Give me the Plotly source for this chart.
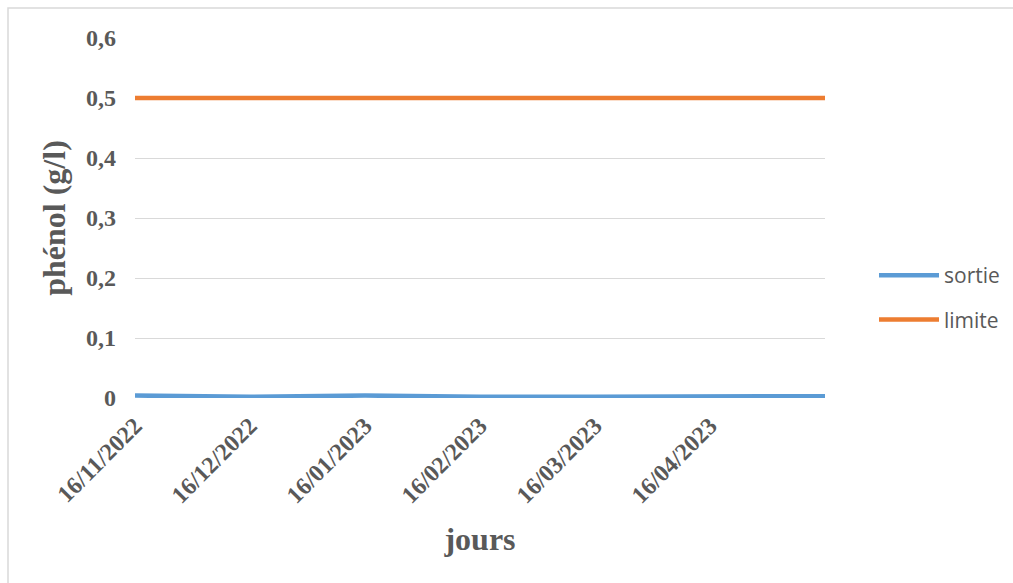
import plotly.graph_objects as go

dates = ["16/11/2022", "16/12/2022", "16/01/2023", "16/02/2023",
         "16/03/2023", "16/04/2023", "16/05/2023"]
tick_labels = ["16/11/2022", "16/12/2022", "16/01/2023", "16/02/2023",
               "16/03/2023", "16/04/2023"]
sortie = [0.004, 0.002, 0.004, 0.002, 0.002, 0.003, 0.003]
limite = [0.5, 0.5, 0.5, 0.5, 0.5, 0.5, 0.5]
y_ticks = [0, 0.1, 0.2, 0.3, 0.4, 0.5, 0.6]
y_tick_text = ["0", "0,1", "0,2", "0,3", "0,4", "0,5", "0,6"]

serif = "Liberation Serif"
gray = "#595959"

fig = go.Figure()
fig.add_trace(go.Scatter(x=dates, y=sortie, mode="lines", name="sortie",
                         legendgroup="a",
                         line=dict(color="#5B9BD5", width=4.5)))
fig.add_trace(go.Scatter(x=dates, y=limite, mode="lines", name="limite",
                         legendgroup="b",
                         line=dict(color="#ED7D31", width=4.5)))

fig.update_layout(
    width=1013, height=583,
    margin=dict(l=135, r=188, t=38, b=185),
    paper_bgcolor="white", plot_bgcolor="white",
    showlegend=True,
    legend=dict(xref="container", yref="container",
                x=874 / 1013, y=1 - 297.5 / 583, xanchor="left", yanchor="middle",
                font=dict(family="Open Sans", size=21, color=gray),
                traceorder="grouped", tracegroupgap=14,
                itemwidth=60, bgcolor="rgba(0,0,0,0)"),
    xaxis=dict(type="category", range=[0, 6], automargin=False,
               tickmode="array", tickvals=tick_labels,
               ticktext=["<b>%s</b>" % t for t in tick_labels],
               tickangle=-45, showgrid=False, zeroline=False, showline=False,
               ticks="", ticklabelstandoff=8,
               tickfont=dict(family=serif, size=24, color=gray),
               title=dict(text="<b>jours</b>", standoff=20,
                          font=dict(family=serif, size=32, color=gray))),
    yaxis=dict(range=[0, 0.6], tickmode="array", tickvals=y_ticks,
               automargin=False,
               ticktext=["<b>%s</b>" % t for t in y_tick_text],
               showgrid=True, gridcolor="#D9D9D9", gridwidth=1,
               zeroline=False, showline=False, ticks="", ticklabelstandoff=18,
               tickfont=dict(family=serif, size=24, color=gray),
               title=dict(text="<b>phénol (g/l)</b>", standoff=10,
                          font=dict(family=serif, size=32, color=gray))),
)

fig.add_shape(type="rect", xref="paper", yref="paper",
              x0=(8 - 135) / 690, x1=(1020 - 135) / 690,
              y0=(398 - 590) / 360, y1=(398 - 8) / 360,
              line=dict(color="#D9D9D9", width=1.5), layer="below")

fig.write_html("out.html")
